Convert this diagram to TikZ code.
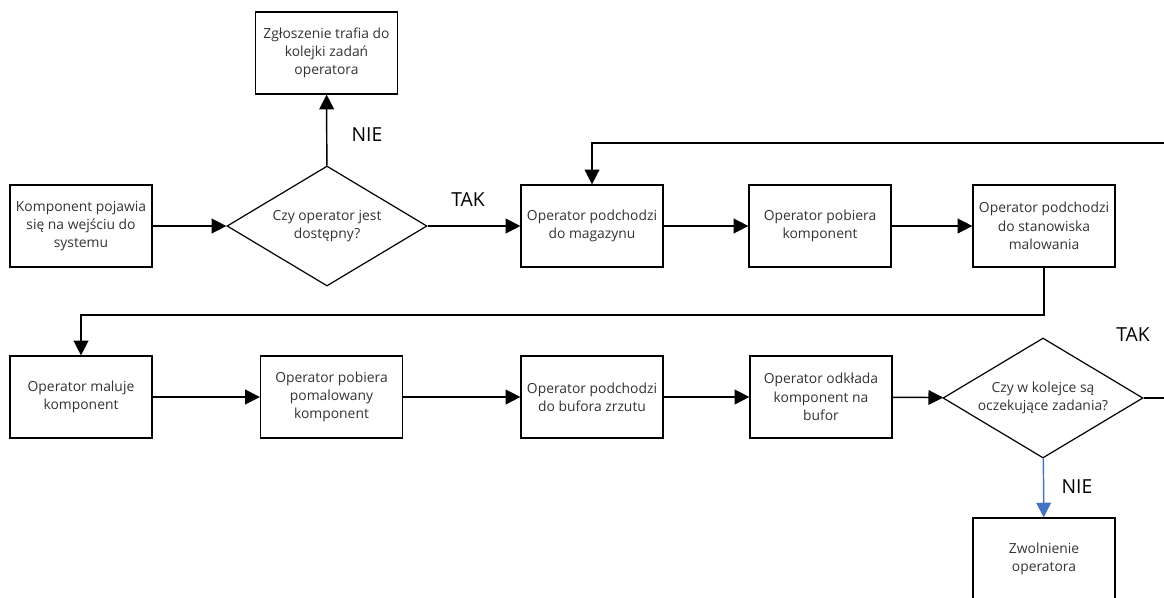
\documentclass[tikz,border=0pt]{standalone}
\usepackage{fontspec}
\setmainfont{Open Sans}
\usetikzlibrary{arrows.meta,shapes.geometric}

\begin{document}
\begin{tikzpicture}[x=0.75pt, y=-0.75pt,
    box/.style={draw, line width=0.9pt, minimum width=106.5pt, minimum height=61.5pt,
      inner sep=0pt, align=center, text=black!80, font=\fontsize{10.4pt}{13.7pt}\selectfont},
    decision/.style={draw, diamond, line width=0.9pt, minimum width=150pt, minimum height=90pt,
      aspect=1.667, inner sep=0pt, align=center, text=black!80, font=\fontsize{10.4pt}{13.7pt}\selectfont},
    flow/.style={line width=1.1pt, -{Triangle[length=11pt,width=11pt]}},
    answer/.style={font=\fontsize{14.5pt}{16pt}\selectfont}]
  \clip (0,0) rectangle (1164,597);
  % top row
  \node[box] (start) at (81,226) {Komponent pojawia\\się na wejściu do\\systemu};
  \node[decision] (free) at (327,226) {Czy operator jest\\dostępny?};
  \node[box] (queue) at (326.5,53) {Zgłoszenie trafia do\\kolejki zadań\\operatora};
  \node[box] (store) at (592,226) {Operator podchodzi\\do magazynu};
  \node[box] (take) at (820,226) {Operator pobiera\\komponent};
  \node[box] (paint) at (1044,226) {Operator podchodzi\\do stanowiska\\malowania};
  % bottom row
  \node[box] (color) at (81,397) {Operator maluje\\komponent};
  \node[box] (takep) at (331.5,397) {Operator pobiera\\pomalowany\\komponent};
  \node[box] (buffer) at (592,397) {Operator podchodzi\\do bufora zrzutu};
  \node[box] (drop) at (821,397) {Operator odkłada\\komponent na\\bufor};
  \node[decision] (tasks) at (1043,398) {Czy w kolejce są\\oczekujące zadania?};
  \node[box] (release) at (1044,559) {Zwolnienie\\operatora};
  % labels
  \node[answer] (nie1) at (367,135) {NIE};
  \node[answer] (tak1) at (468,200) {TAK};
  \node[answer] (tak2) at (1133,335) {TAK};
  \node[answer] (nie2) at (1077,487) {NIE};
  \coordinate (turn) at (81,315);
  \coordinate (back) at (1190,143);
  % connectors
  \draw[flow] (start) -- (free);
  \draw[flow] (free) -- (queue);
  \draw[flow] (free) -- (store);
  \draw[flow] (store) -- (take);
  \draw[flow] (take) -- (paint);
  \draw[flow] (paint.south) |- (turn) -- (color.north);
  \draw[flow] (color) -- (takep);
  \draw[flow] (takep) -- (buffer);
  \draw[flow] (buffer) -- (drop);
  \draw[flow] (drop) -- (tasks);
  \draw[flow] (tasks.east) -| (back) -| (store.north);
  \draw[flow, color={rgb,255:red,68;green,114;blue,196}] (tasks) -- (release);
\end{tikzpicture}
\end{document}
